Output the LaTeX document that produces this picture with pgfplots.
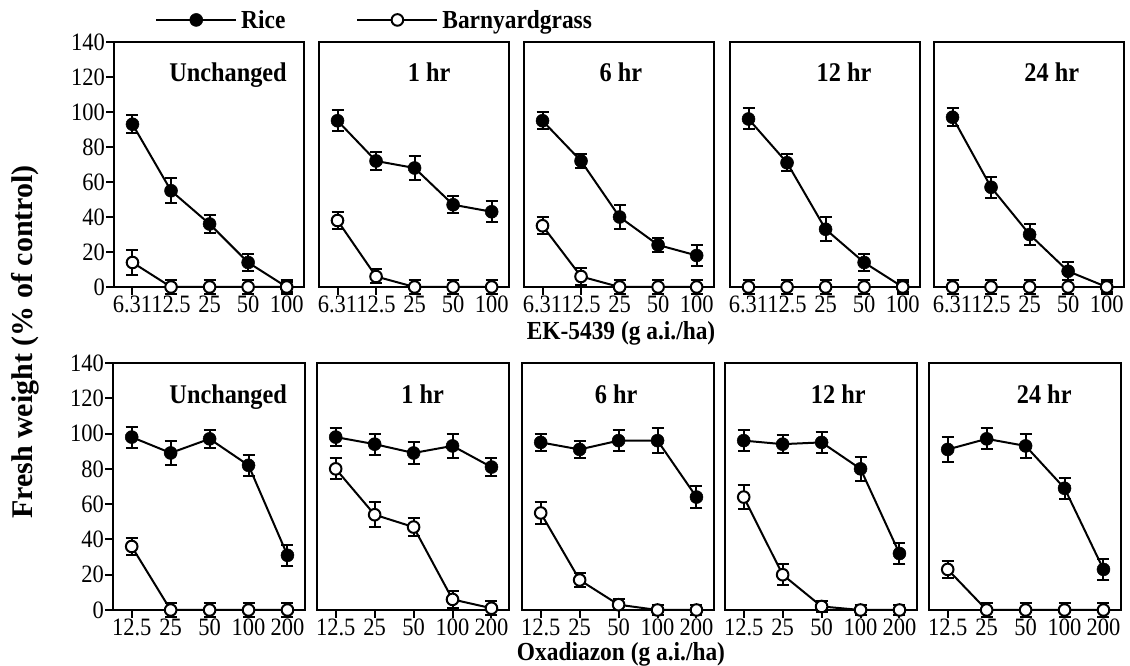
\documentclass[border=0pt]{standalone}
\usepackage{fontspec}
\setmainfont{Liberation Serif}[FakeStretch=0.9]
\newfontfamily\yfont{Liberation Serif}
\usepackage{pgfplots}
\pgfplotsset{compat=1.18}

\tikzset{ptitle/.style={anchor=base, font=\bfseries\fontsize{27}{27}\selectfont}}

\pgfplotsset{
  panel/.style={
    anchor=south west,
    scale only axis,
    xmin=-0.48, xmax=4.45, ymin=0, ymax=140,
    clip=false,
    axis line style={line width=2.4pt},
    xtick={0,1,2,3,4},
    ytick=\empty,
    xtick pos=bottom, ytick pos=left,
    tick align=outside,
    major tick length=8pt,
    tick style={black, line width=2pt},
    ticklabel style={font=\fontsize{25}{25}\selectfont},
    xticklabel style={inner sep=1pt},
    yticklabel style={inner sep=1pt},
    /pgf/number format/assume math mode=true,
  },
  toprow/.style={panel, width=190pt, height=245pt, xticklabels={6.31,12.5,25,50,100}},
  botrow/.style={panel, width=192pt, height=247pt, xticklabels={12.5,25,50,100,200}},
  rice/.style={black, line width=2pt, mark=*, mark size=6.5pt,
    mark options={fill=black, line width=0.5pt},
    error bars/y dir=both, error bars/y explicit,
    error bars/error bar style={line width=2pt},
    error bars/error mark options={rotate=90, mark size=6pt, line width=2pt}},
  barn/.style={black, line width=2pt, mark=*, mark size=5.8pt,
    mark options={fill=white, line width=2pt},
    error bars/y dir=both, error bars/y explicit,
    error bars/error bar style={line width=2pt},
    error bars/error mark options={rotate=90, mark size=6pt, line width=2pt}},
}

\begin{document}
\begin{tikzpicture}
\path[use as bounding box] (0,0) rectangle (1130pt,666pt);

% ---------- EK-5439 row ----------
\begin{axis}[toprow, at={(114pt,379pt)},
    ytick={0,20,...,140},
    legend columns=2,
    legend style={at={(axis description cs:0.216,1.09)}, anchor=west,
      draw=none, fill=none, inner sep=0pt,
      font=\bfseries\fontsize{26}{26}\selectfont,
      nodes={inner sep=4pt}},
    legend image code/.code={\draw[mark repeat=2, mark phase=2, #1]
      plot coordinates {(0pt,0pt) (40pt,0pt) (80pt,0pt)};},
  ]
\addplot[rice] coordinates {(0,93) +- (0,5) (1,55) +- (0,7) (2,36) +- (0,5) (3,14) +- (0,5) (4,0) +- (0,3)};
\addlegendentry{Rice\hspace*{67pt}}
\addplot[barn] coordinates {(0,14) +- (0,7) (1,0) +- (0,4) (2,0) +- (0,4) (3,0) +- (0,4) (4,0) +- (0,4)};
\addlegendentry{Barnyardgrass}
\node[ptitle] at (rel axis cs:0.6,0.837) {Unchanged};
\end{axis}

\begin{axis}[toprow, at={(319pt,379pt)}]
\addplot[rice] coordinates {(0,95) +- (0,6) (1,72) +- (0,5) (2,68) +- (0,7) (3,47) +- (0,5) (4,43) +- (0,6)};
\addplot[barn] coordinates {(0,38) +- (0,5) (1,6) +- (0,4) (2,0) +- (0,4) (3,0) +- (0,4) (4,0) +- (0,4)};
\node[ptitle] at (rel axis cs:0.58,0.837) {1 hr};
\end{axis}

\begin{axis}[toprow, at={(524pt,379pt)}]
\addplot[rice] coordinates {(0,95) +- (0,5) (1,72) +- (0,4) (2,40) +- (0,7) (3,24) +- (0,4) (4,18) +- (0,6)};
\addplot[barn] coordinates {(0,35) +- (0,5) (1,6) +- (0,5) (2,0) +- (0,4) (3,0) +- (0,4) (4,0) +- (0,4)};
\node[ptitle] at (rel axis cs:0.51,0.837) {6 hr};
\end{axis}

\begin{axis}[toprow, at={(730pt,379pt)}]
\addplot[rice] coordinates {(0,96) +- (0,6) (1,71) +- (0,5) (2,33) +- (0,7) (3,14) +- (0,5) (4,0) +- (0,3)};
\addplot[barn] coordinates {(0,0) +- (0,4) (1,0) +- (0,4) (2,0) +- (0,4) (3,0) +- (0,4) (4,0) +- (0,4)};
\node[ptitle] at (rel axis cs:0.6,0.837) {12 hr};
\end{axis}

\begin{axis}[toprow, at={(934pt,379pt)}]
\addplot[rice] coordinates {(0,97) +- (0,5) (1,57) +- (0,6) (2,30) +- (0,6) (3,9) +- (0,5) (4,0) +- (0,3)};
\addplot[barn] coordinates {(0,0) +- (0,4) (1,0) +- (0,4) (2,0) +- (0,4) (3,0) +- (0,4) (4,0) +- (0,4)};
\node[ptitle] at (rel axis cs:0.62,0.837) {24 hr};
\end{axis}

% ---------- Oxadiazon row ----------
\begin{axis}[botrow, at={(113pt,56pt)}, ytick={0,20,...,140}]
\addplot[rice] coordinates {(0,98) +- (0,6) (1,89) +- (0,7) (2,97) +- (0,5) (3,82) +- (0,6) (4,31) +- (0,6)};
\addplot[barn] coordinates {(0,36) +- (0,5) (1,0) +- (0,4) (2,0) +- (0,4) (3,0) +- (0,4) (4,0) +- (0,4)};
\node[ptitle] at (rel axis cs:0.6,0.838) {Unchanged};
\end{axis}

\begin{axis}[botrow, at={(317pt,56pt)}]
\addplot[rice] coordinates {(0,98) +- (0,5) (1,94) +- (0,6) (2,89) +- (0,6) (3,93) +- (0,7) (4,81) +- (0,5)};
\addplot[barn] coordinates {(0,80) +- (0,6) (1,54) +- (0,7) (2,47) +- (0,5) (3,6) +- (0,5) (4,1) +- (0,4)};
\node[ptitle] at (rel axis cs:0.55,0.838) {1 hr};
\end{axis}

\begin{axis}[botrow, at={(522pt,56pt)}]
\addplot[rice] coordinates {(0,95) +- (0,5) (1,91) +- (0,5) (2,96) +- (0,6) (3,96) +- (0,7) (4,64) +- (0,6)};
\addplot[barn] coordinates {(0,55) +- (0,6) (1,17) +- (0,4) (2,3) +- (0,3) (3,0) +- (0,3) (4,0) +- (0,3)};
\node[ptitle] at (rel axis cs:0.49,0.838) {6 hr};
\end{axis}

\begin{axis}[botrow, at={(725pt,56pt)}]
\addplot[rice] coordinates {(0,96) +- (0,6) (1,94) +- (0,5) (2,95) +- (0,6) (3,80) +- (0,7) (4,32) +- (0,6)};
\addplot[barn] coordinates {(0,64) +- (0,7) (1,20) +- (0,6) (2,2) +- (0,3) (3,0) +- (0,3) (4,0) +- (0,3)};
\node[ptitle] at (rel axis cs:0.59,0.838) {12 hr};
\end{axis}

\begin{axis}[botrow, at={(929pt,56pt)}]
\addplot[rice] coordinates {(0,91) +- (0,7) (1,97) +- (0,6) (2,93) +- (0,7) (3,69) +- (0,6) (4,23) +- (0,6)};
\addplot[barn] coordinates {(0,23) +- (0,5) (1,0) +- (0,4) (2,0) +- (0,4) (3,0) +- (0,4) (4,0) +- (0,4)};
\node[ptitle] at (rel axis cs:0.6,0.838) {24 hr};
\end{axis}

% shared labels
\node[anchor=north, inner sep=0pt, font=\bfseries\fontsize{26}{26}\selectfont] at (621pt,345pt) {EK-5439 (g a.i./ha)};
\node[anchor=north, inner sep=0pt, font=\bfseries\fontsize{26}{26}\selectfont] at (621pt,24pt) {Oxadiazon (g a.i./ha)};
\node[rotate=90, inner sep=0pt, font=\yfont\bfseries\fontsize{30}{30}\selectfont] at (25pt,324pt) {Fresh weight (\% of control)};
\end{tikzpicture}
\end{document}
